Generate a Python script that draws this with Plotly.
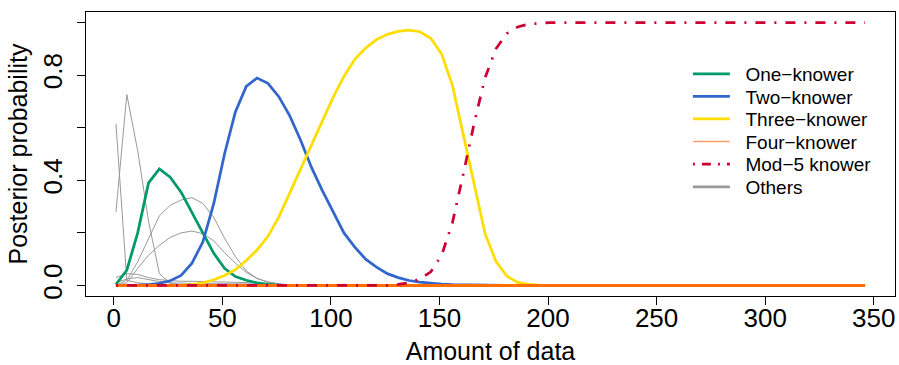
import plotly.graph_objects as go

# Amount of data (grid of observations)
amount = [1, 6, 11, 16, 21, 26, 31, 36, 41, 46, 51, 56, 61, 66, 71, 76, 81, 86, 91, 96,
          101, 106, 111, 116, 121, 126, 131, 136, 141, 146, 151, 156, 161, 166, 171, 176, 181, 186, 191, 196,
          201, 206, 211, 216, 221, 226, 231, 236, 241, 246, 251, 256, 261, 266, 271, 276, 281, 286, 291, 296,
          301, 306, 311, 316, 321, 326, 331, 336, 341, 346]

Z30 = [0.0] * 30

one_knower = [0.004, 0.058, 0.2, 0.39, 0.443, 0.412, 0.355, 0.28, 0.2, 0.123,
              0.065, 0.034, 0.02, 0.01, 0.004, 0.001, 0.0, 0.0, 0.0, 0.0,
              0.0, 0.0, 0.0, 0.0, 0.0, 0.0, 0.0, 0.0, 0.0, 0.0,
              0.0, 0.0, 0.0, 0.0, 0.0, 0.0, 0.0, 0.0, 0.0, 0.0] + Z30

two_knower = [0.0, 0.0, 0.001, 0.003, 0.008, 0.018, 0.038, 0.085, 0.165, 0.31,
              0.5, 0.66, 0.757, 0.789, 0.769, 0.718, 0.646, 0.553, 0.45, 0.362,
              0.28, 0.2, 0.146, 0.1, 0.07, 0.045, 0.03, 0.019, 0.013, 0.008,
              0.005, 0.003, 0.002, 0.001, 0.0, 0.0, 0.0, 0.0, 0.0, 0.0] + Z30

three_knower = [0.0, 0.0, 0.0, 0.0, 0.0, 0.0, 0.0, 0.003, 0.01, 0.022,
                0.038, 0.06, 0.095, 0.135, 0.187, 0.26, 0.35, 0.44, 0.53, 0.625,
                0.715, 0.795, 0.86, 0.903, 0.935, 0.955, 0.966, 0.971, 0.965, 0.94,
                0.88, 0.76, 0.575, 0.38, 0.197, 0.092, 0.036, 0.012, 0.004, 0.001] + Z30

four_knower = [0.0] * 40 + Z30

mod5_knower = [0.0, 0.0, 0.0, 0.0, 0.0, 0.0, 0.0, 0.0, 0.0, 0.0,
               0.0, 0.0, 0.0, 0.0, 0.0, 0.0, 0.0, 0.0, 0.0, 0.0,
               0.0, 0.0, 0.0, 0.0, 0.0, 0.0, 0.004, 0.01, 0.025, 0.052,
               0.115, 0.24, 0.425, 0.618, 0.79, 0.9, 0.958, 0.983, 0.994, 0.998] + [1.0] * 30

others = [
    [0.615, 0.02, 0.01, 0.005, 0.002] + [0.0] * 65,
    [0.28, 0.726, 0.513, 0.245, 0.045, 0.008, 0.002] + [0.0] * 63,
    [0.0, 0.02, 0.09, 0.18, 0.265, 0.305, 0.325, 0.334, 0.312, 0.26,
     0.18, 0.11, 0.055, 0.027, 0.012, 0.005, 0.002] + [0.0] * 53,
    [0.0, 0.01, 0.065, 0.115, 0.153, 0.183, 0.2, 0.207, 0.197, 0.17,
     0.125, 0.085, 0.05, 0.026, 0.014, 0.006, 0.002] + [0.0] * 53,
    [0.03, 0.045, 0.042, 0.03, 0.022, 0.018, 0.016, 0.016, 0.015, 0.015,
     0.014, 0.013, 0.012, 0.01, 0.007, 0.004, 0.002] + [0.0] * 53,
    [0.01, 0.025, 0.03, 0.022, 0.015, 0.01, 0.008, 0.008, 0.007, 0.007,
     0.006, 0.006, 0.005, 0.005, 0.005, 0.004, 0.004, 0.003, 0.003, 0.002,
     0.002, 0.001] + [0.0] * 48,
]

legend_names = ["One\u2212knower", "Two\u2212knower", "Three\u2212knower",
                "Four\u2212knower", "Mod\u22125 knower", "Others"]

x_ticks = [0, 50, 100, 150, 200, 250, 300, 350]
y_ticks = [0.0, 0.2, 0.4, 0.6, 0.8, 1.0]
y_ticktext = ["0.0", "", "0.4", "", "0.8", ""]

C_ONE = "#00996B"
C_TWO = "#3366CC"
C_THREE = "#FFDD00"
C_FOUR = "#FF6E00"
C_FOUR_LEG = "#FFA070"
C_MOD5 = "#CC0033"
C_OTHER = "#999999"
W = 2.75
DASH = "2px,9px,10px,9px"
FONT = "Liberation Sans, Arial, sans-serif"

fig = go.Figure()
for ys in others:
    fig.add_trace(go.Scatter(x=amount, y=ys, mode="lines", showlegend=False,
                             line=dict(color=C_OTHER, width=1), hoverinfo="skip"))
fig.add_trace(go.Scatter(x=amount, y=one_knower, mode="lines", showlegend=False,
                         line=dict(color=C_ONE, width=W)))
fig.add_trace(go.Scatter(x=amount, y=two_knower, mode="lines", showlegend=False,
                         line=dict(color=C_TWO, width=W)))
fig.add_trace(go.Scatter(x=amount, y=three_knower, mode="lines", showlegend=False,
                         line=dict(color=C_THREE, width=W)))
fig.add_trace(go.Scatter(x=amount, y=four_knower, mode="lines", showlegend=False,
                         line=dict(color=C_FOUR, width=3)))
fig.add_trace(go.Scatter(x=amount, y=mod5_knower, mode="lines", showlegend=False,
                         line=dict(color=C_MOD5, width=W, dash=DASH)))

# legend entries, one small legend per entry so the row spacing matches
leg_styles = [
    dict(color=C_ONE, width=W),
    dict(color=C_TWO, width=W),
    dict(color=C_THREE, width=W),
    dict(color=C_FOUR_LEG, width=1.5),
    dict(color=C_MOD5, width=W, dash="2px,7px,9px,7px"),
    dict(color=C_OTHER, width=W),
]
leg_y = [0.782, 0.7025, 0.623, 0.5435, 0.464, 0.384]
layout_legends = {}
for i, (name, st) in enumerate(zip(legend_names, leg_styles)):
    lid = "legend" if i == 0 else "legend%d" % (i + 1)
    fig.add_trace(go.Scatter(x=[None], y=[None], mode="lines", name="\u00a0\u00a0" + name,
                             line=st, showlegend=True, legend=lid))
    layout_legends[lid] = dict(x=0.744, y=leg_y[i], xanchor="left", yanchor="middle",
                               bgcolor="rgba(0,0,0,0)", borderwidth=0,
                               font=dict(size=19, family=FONT), itemwidth=37)

fig.update_layout(
    width=899, height=365,
    margin=dict(l=86, r=4, t=12, b=69, autoexpand=False),
    plot_bgcolor="white", paper_bgcolor="white",
    font=dict(family=FONT, color="black"),
    showlegend=True,
    xaxis=dict(range=[-12.8, 359.8], tickvals=x_ticks, ticks="outside", ticklen=8,
               tickcolor="black", showline=True, linecolor="black", linewidth=1,
               mirror=True, showgrid=False, zeroline=False, automargin=False,
               tickfont=dict(size=26), ticklabelstandoff=-9,
               title=dict(text="Amount of data", font=dict(size=25), standoff=14)),
    yaxis=dict(range=[-0.04, 1.04], tickvals=y_ticks, ticktext=y_ticktext,
               ticks="outside", ticklen=8, tickcolor="black", tickangle=-90,
               ticklabelstandoff=5,
               showline=True, linecolor="black", linewidth=1, mirror=True,
               showgrid=False, zeroline=False, automargin=False, tickfont=dict(size=26),
               title=dict(text="Posterior probability", font=dict(size=25), standoff=2)),
    **layout_legends,
)

fig.write_html("out.html", config={"displayModeBar": False},
               post_script="document.body.style.margin='0';document.body.style.overflow='hidden';")
